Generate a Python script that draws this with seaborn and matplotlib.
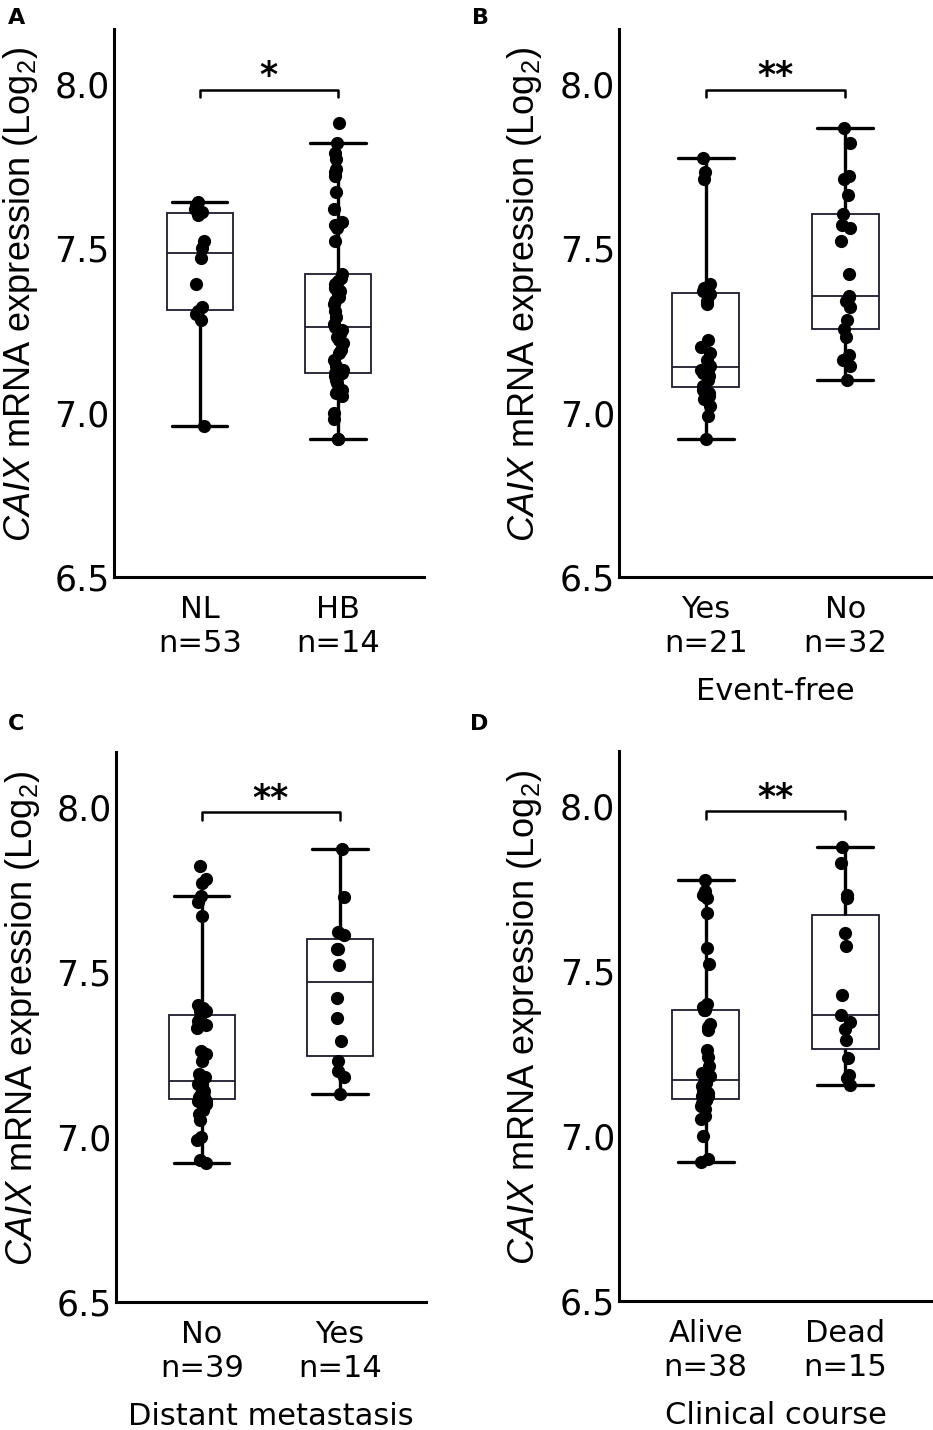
import warnings
import pandas as pd
import matplotlib
matplotlib.use("Agg")
import matplotlib.pyplot as plt
import seaborn as sns

warnings.filterwarnings("ignore")
sns.set_style("white")
plt.rcParams['font.family'] = ['DejaVu Sans']
plt.rcParams['mathtext.fontset'] = 'custom'
plt.rcParams['mathtext.rm'] = 'Liberation Sans'
plt.rcParams['mathtext.it'] = 'Liberation Sans:italic'
for key in ['text.color', 'axes.labelcolor', 'xtick.color', 'ytick.color']:
    plt.rcParams[key] = 'black'

# Panel A: NL vs HB
a_groups = ['NL', 'HB']
a_counts = ['n=53', 'n=14']
a_nl = [6.96, 7.28, 7.30, 7.31, 7.32, 7.39, 7.47, 7.50, 7.52, 7.60, 7.61, 7.62, 7.63, 7.64]
a_hb = [6.92, 6.92, 6.98, 7.00, 7.05, 7.06, 7.07, 7.09, 7.10, 7.11, 7.11, 7.12, 7.12, 7.12,
        7.12, 7.12, 7.13, 7.14, 7.16, 7.18, 7.19, 7.21, 7.22, 7.23, 7.24, 7.25, 7.26,
        7.27, 7.29, 7.31, 7.33, 7.34, 7.35, 7.36, 7.37, 7.38, 7.39, 7.40, 7.41, 7.42,
        7.52, 7.56, 7.57, 7.58, 7.62, 7.67, 7.72, 7.73, 7.74, 7.77, 7.79, 7.82, 7.88]

# Panel B: event-free
b_groups = ['Yes', 'No']
b_counts = ['n=21', 'n=32']
b_yes = [6.92, 6.99, 7.02, 7.04, 7.05, 7.06, 7.07, 7.07, 7.08, 7.10, 7.11, 7.12, 7.12, 7.13,
         7.13, 7.135, 7.14, 7.16, 7.18, 7.20, 7.22, 7.33, 7.34, 7.36, 7.37, 7.37, 7.38, 7.38,
         7.39, 7.71, 7.73, 7.775]
b_no = [7.10, 7.14, 7.16, 7.175, 7.23, 7.255, 7.28, 7.32, 7.34, 7.35, 7.355, 7.42, 7.52,
        7.56, 7.57, 7.605, 7.66, 7.71, 7.72, 7.82, 7.865]

# Panel C: distant metastasis
c_groups = ['No', 'Yes']
c_counts = ['n=39', 'n=14']
c_no = [6.92, 6.93, 6.99, 7.00, 7.05, 7.07, 7.08, 7.10, 7.11, 7.11, 7.12, 7.12, 7.12, 7.13,
        7.14, 7.15, 7.16, 7.16, 7.17, 7.17, 7.18, 7.19, 7.23, 7.25, 7.26, 7.33, 7.34, 7.35,
        7.36, 7.38, 7.38, 7.39, 7.40, 7.67, 7.71, 7.73, 7.77, 7.78, 7.82]
c_yes = [7.13, 7.18, 7.20, 7.23, 7.29, 7.36, 7.42, 7.52, 7.57, 7.57, 7.61, 7.62, 7.725, 7.87]

# Panel D: clinical course
d_groups = ['Alive', 'Dead']
d_counts = ['n=38', 'n=15']
d_alive = [6.92, 6.93, 7.00, 7.05, 7.06, 7.08, 7.09, 7.10, 7.11, 7.11, 7.12, 7.12, 7.12,
           7.13, 7.13, 7.14, 7.15, 7.16, 7.16, 7.18, 7.19, 7.21, 7.24, 7.26, 7.32, 7.33,
           7.34, 7.38, 7.38, 7.39, 7.40, 7.52, 7.57, 7.675, 7.72, 7.73, 7.74, 7.775]
d_dead = [7.155, 7.175, 7.185, 7.235, 7.29, 7.325, 7.345, 7.365, 7.425, 7.575, 7.615,
          7.72, 7.73, 7.825, 7.875]

panels = [
    ('A', a_groups, a_counts, [a_nl, a_hb], '*', None,
     [0.1222, 0.5965, 0.332, 0.383], (0.008, 0.9805)),
    ('B', b_groups, b_counts, [b_yes, b_no], '**', 'Event-free',
     [0.6635, 0.5965, 0.3355, 0.383], (0.506, 0.9805)),
    ('C', c_groups, c_counts, [c_no, c_yes], '**', 'Distant metastasis',
     [0.1243, 0.0895, 0.332, 0.3846], (0.008, 0.4868)),
    ('D', d_groups, d_counts, [d_alive, d_dead], '**', 'Clinical course',
     [0.6635, 0.0902, 0.3355, 0.3846], (0.504, 0.4868)),
]

fig = plt.figure(figsize=(9.33, 14.3), dpi=100)

for letter, groups, counts, values, stars, xlab, rect, letter_pos in panels:
    ax = fig.add_axes(rect)
    df = pd.DataFrame({
        'group': [groups[0]] * len(values[0]) + [groups[1]] * len(values[1]),
        'value': values[0] + values[1],
    })

    sns.boxplot(data=df, x='group', y='value', order=groups, ax=ax, width=0.48,
                color='white', linecolor='#1b1b2e', linewidth=1.3, showfliers=False,
                whis=1.5, capwidths=0.4,
                whiskerprops=dict(linewidth=2.4, color='black'),
                capprops=dict(linewidth=2.4, color='black'),
                medianprops=dict(linewidth=1.3, color='#1b1b2e'))
    sns.stripplot(data=df, x='group', y='value', order=groups, ax=ax,
                  color='black', size=9.5, jitter=0.035, zorder=3)

    ax.set_xlim(-0.62, 1.62)
    ax.set_ylim(6.5, 8.165)
    ax.set_yticks([6.5, 7.0, 7.5, 8.0])
    ax.set_yticklabels(['6.5', '7.0', '7.5', '8.0'], fontsize=25)
    ax.set_xticks([0, 1])
    ax.set_xticklabels([g + '\n' + n for g, n in zip(groups, counts)], fontsize=22)
    ax.tick_params(axis='x', length=0, pad=13)
    ax.tick_params(axis='y', length=0, pad=3)

    for side in ['top', 'right']:
        ax.spines[side].set_visible(False)
    for side in ['left', 'bottom']:
        ax.spines[side].set_linewidth(2.2)
        ax.spines[side].set_color('black')

    ax.set_ylabel(r'$\it{CAIX}$ mRNA expression (Log$_\mathregular{2}$)',
                  fontsize=26, family='Liberation Sans')
    ax.yaxis.set_label_coords(-0.24, 0.515)
    if xlab:
        ax.set_xlabel(xlab, fontsize=22, labelpad=14)
    else:
        ax.set_xlabel('')

    # significance bracket
    ax.plot([0, 0, 1, 1], [7.96, 7.982, 7.982, 7.96], color='black', lw=1.8)
    ax.text(0.5, 7.972, stars, ha='center', va='bottom', fontsize=25, fontweight='bold')

    fig.text(letter_pos[0], letter_pos[1], letter, fontsize=16, fontweight='bold',
             ha='left', va='bottom')

fig.savefig('out.png', dpi=100)
